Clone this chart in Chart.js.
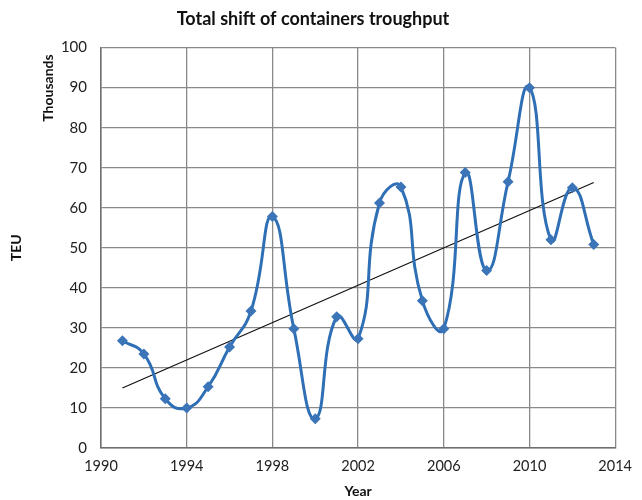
<!DOCTYPE html>
<html>
<head>
<meta charset="utf-8">
<style>
  html, body { margin: 0; padding: 0; background: #fff; }
  #wrap { width: 642px; height: 500px; }
</style>
<script src="https://cdn.jsdelivr.net/npm/chart.js@4/dist/chart.umd.min.js"></script>
</head>
<body>
<div id="wrap"><canvas id="chart" width="642" height="500"></canvas></div>
<script>
// Data (TEU, thousands)
const years = [1991, 1992, 1993, 1994, 1995, 1996, 1997, 1998, 1999, 2000, 2001, 2002,
               2003, 2004, 2005, 2006, 2007, 2008, 2009, 2010, 2011, 2012, 2013];
const teu = [26.8, 23.5, 12.3, 10, 15.3, 25.2, 34.2, 57.8, 29.8, 7.3, 32.8, 27.3,
             61.2, 65.2, 36.8, 29.8, 68.8, 44.3, 66.5, 90, 52, 65, 50.8];
const trendYears = [1991, 2013];
const trendValues = [15, 66.3];
const xTicks = [1990, 1994, 1998, 2002, 2006, 2010, 2014];

const FONT = "Lato, 'Open Sans', sans-serif";

// "Thousands" display-unit label beside the value axis
const unitLabel = {
  id: "unitLabel",
  afterDraw(chart) {
    const ctx = chart.ctx;
    ctx.save();
    ctx.translate(48, 88);
    ctx.rotate(-Math.PI / 2);
    ctx.font = "bold 14px " + FONT;
    ctx.fillStyle = "#111";
    ctx.textAlign = "center";
    ctx.textBaseline = "middle";
    ctx.fillText("Thousands", 0, 0);
    ctx.restore();
  },
};

const ctx = document.getElementById("chart").getContext("2d");
new Chart(ctx, {
  type: "line",
  data: {
    datasets: [
      {
        label: "TEU",
        data: years.map((y, i) => ({ x: y, y: teu[i] })),
        borderColor: "#2f6fb5",
        backgroundColor: "#3b75b8",
        borderWidth: 3,
        tension: 0.5,
        pointStyle: "rectRot",
        pointRadius: 5.5,
        pointBorderWidth: 0,
        order: 1,
      },
      {
        label: "Trend",
        data: trendYears.map((y, i) => ({ x: y, y: trendValues[i] })),
        borderColor: "#111",
        borderWidth: 1.2,
        pointRadius: 0,
        tension: 0,
        order: 2,
      },
    ],
  },
  options: {
    responsive: false,
    animation: false,
    layout: { padding: { left: 0, right: 16, top: 0, bottom: 0 } },
    plugins: {
      legend: { display: false },
      tooltip: { enabled: false },
      title: {
        display: true,
        text: "Total shift of containers troughput",
        color: "#111",
        font: { family: FONT, size: 18, weight: "bold", lineHeight: 1.2 },
        padding: { top: 8, bottom: 18 },
      },
    },
    scales: {
      x: {
        type: "linear",
        min: 1990,
        max: 2014,
        afterBuildTicks(scale) {
          scale.ticks = xTicks.map((v) => ({ value: v }));
        },
        afterFit(scale) { scale.height = 52; },
        grid: { color: "#8a8a8a", lineWidth: 1.3, drawTicks: false },
        border: { color: "#6f6f6f", width: 1.5 },
        ticks: {
          color: "#222",
          font: { family: FONT, size: 14.5 },
          padding: 10,
          maxRotation: 0,
          callback: (v) => String(v),
        },
        title: {
          display: true,
          text: "Year",
          color: "#111",
          font: { family: FONT, size: 14, weight: "bold" },
          padding: { top: 0, bottom: 0 },
        },
      },
      y: {
        min: 0,
        max: 100,
        afterFit(scale) { scale.width = 101; },
        grid: { color: "#8a8a8a", lineWidth: 1.3, drawTicks: false },
        border: { color: "#6f6f6f", width: 1.5 },
        ticks: {
          stepSize: 10,
          color: "#222",
          font: { family: FONT, size: 15 },
          padding: 14,
        },
        title: {
          display: true,
          text: "TEU",
          color: "#111",
          font: { family: FONT, size: 14, weight: "bold" },
          padding: { top: 8, bottom: 0 },
        },
      },
    },
  },
  plugins: [unitLabel],
});
</script>
</body>
</html>
